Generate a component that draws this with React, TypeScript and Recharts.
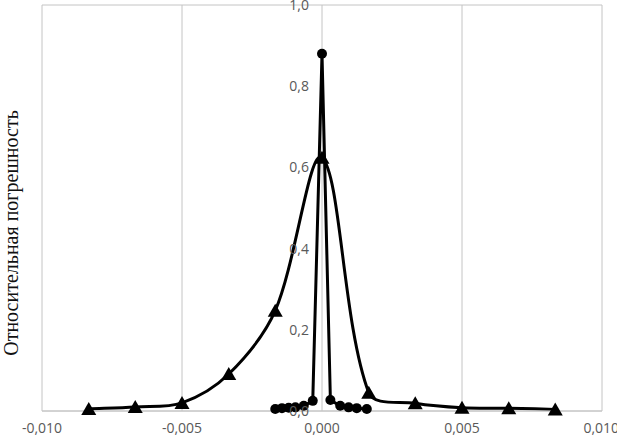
import { LineChart, Line, XAxis, YAxis, CartesianGrid, ReferenceDot } from 'recharts';

// triangles: smooth curve
const triX = [-0.00833, -0.00667, -0.005, -0.00333, -0.00167, 0, 0.00167, 0.00333, 0.005, 0.00667, 0.00833];
const triY = [0.005, 0.01, 0.02, 0.091, 0.247, 0.624, 0.045, 0.019, 0.008, 0.0067, 0.004];

// circles: straight segments
const circX = [-0.00167, -0.00143, -0.00119, -0.00095, -0.00065, -0.00033, 0, 0.0003, 0.00065, 0.00095, 0.00124, 0.0016];
const circY = [0.005, 0.007, 0.008, 0.009, 0.013, 0.025, 0.88, 0.027, 0.013, 0.009, 0.007, 0.005];

const xTicks = [-0.01, -0.005, 0, 0.005, 0.01];
const yTicks = [0, 0.2, 0.4, 0.6, 0.8, 1];

const triData = triX.map((x, i) => ({ x, y: triY[i] }));
const circData = circX.map((x, i) => ({ x, y: circY[i] }));

const GRID = '#c4c4c4';
const TICK_FONT = { fontFamily: 'Open Sans', fontSize: 14, fill: '#595959' };

// Excel-like smoothing: bezier with chord-length scaled tangents
function smoothCurve(context: any) {
  let pts: number[][] = [];
  const dist = (a: number[], b: number[]) => Math.hypot(b[0] - a[0], b[1] - a[1]);
  return {
    areaStart() {},
    areaEnd() {},
    lineStart() {
      pts = [];
    },
    point(x: number, y: number) {
      pts.push([+x, +y]);
    },
    lineEnd() {
      if (!pts.length) return;
      context.moveTo(pts[0][0], pts[0][1]);
      for (let i = 0; i < pts.length - 1; i++) {
        const p0 = pts[i - 1] || pts[i];
        const p1 = pts[i];
        const p2 = pts[i + 1];
        const p3 = pts[i + 2] || p2;
        const d01 = dist(p0, p1);
        const d12 = dist(p1, p2);
        const d23 = dist(p2, p3);
        const k1 = d01 + d12 > 0 ? d12 / (d01 + d12) / 3 : 0;
        const k2 = d12 + d23 > 0 ? d12 / (d12 + d23) / 3 : 0;
        context.bezierCurveTo(
          p1[0] + (p2[0] - p0[0]) * k1,
          p1[1] + (p2[1] - p0[1]) * k1,
          p2[0] - (p3[0] - p1[0]) * k2,
          p2[1] - (p3[1] - p1[1]) * k2,
          p2[0],
          p2[1]
        );
      }
    },
  };
}

const fmtX = (v: number) => v.toFixed(3).replace('.', ',');
const fmtY = (v: number) => v.toFixed(1).replace('.', ',');

function Triangle(props: any) {
  const { cx, cy } = props;
  if (cx == null || cy == null) return null;
  return <polygon points={`${cx - 7.5},${cy + 6} ${cx + 7.5},${cy + 6} ${cx},${cy - 7}`} fill="#000" />;
}

function Circle(props: any) {
  const { cx, cy } = props;
  if (cx == null || cy == null) return null;
  return <circle cx={cx} cy={cy} r={5} fill="#000" />;
}

export default function App() {
  return (
    <div style={{ position: 'absolute', left: 0, top: 0, width: 617, height: 437, background: '#fff' }}>
      <LineChart width={617} height={437} margin={{ top: 5, right: 15, left: 42, bottom: 0 }}>
        <CartesianGrid stroke={GRID} strokeWidth={1} />
        <XAxis
          type="number"
          dataKey="x"
          domain={[-0.01, 0.01]}
          ticks={xTicks}
          tickFormatter={fmtX}
          height={26}
          tickLine={false}
          tickSize={6}
          tickMargin={6}
          axisLine={{ stroke: GRID }}
          tick={TICK_FONT}
          allowDataOverflow
        />
        <YAxis
          type="number"
          dataKey="y"
          domain={[0, 1]}
          ticks={yTicks}
          width={0}
          tick={false}
          tickLine={false}
          axisLine={false}
        />
        {yTicks.map((v) => (
          <ReferenceDot
            key={v}
            x={0}
            y={v}
            r={0}
            fill="none"
            stroke="none"
            ifOverflow="visible"
            label={{ value: fmtY(v), position: 'left', offset: 13, ...TICK_FONT }}
          />
        ))}
        <Line
          data={triData}
          dataKey="y"
          type={smoothCurve as any}
          stroke="#000"
          strokeWidth={3}
          dot={<Triangle />}
          activeDot={false}
          isAnimationActive={false}
        />
        <Line
          data={circData}
          dataKey="y"
          type="linear"
          stroke="#000"
          strokeWidth={3}
          dot={<Circle />}
          activeDot={false}
          isAnimationActive={false}
        />
      </LineChart>
      <svg width={40} height={437} style={{ position: 'absolute', left: 0, top: 0 }}>
        <text
          transform="translate(11,233) rotate(-90)"
          textAnchor="middle"
          dominantBaseline="central"
          fontFamily="Liberation Serif"
          fontSize={20}
          fill="#111"
        >
          Относительная погрешность
        </text>
      </svg>
    </div>
  );
}
